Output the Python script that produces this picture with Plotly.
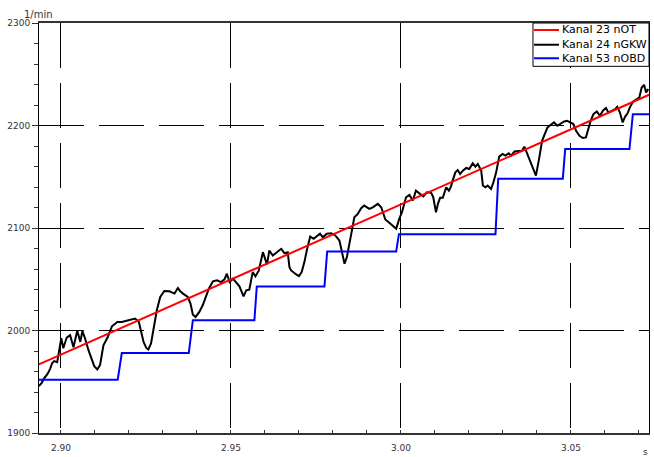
import plotly.graph_objects as go

# --- measured channels -------------------------------------------------------
# Kanal 24 nGKW (measured engine speed, 1/min)
gkw_t = [2.8935, 2.8943, 2.8951, 2.8960, 2.8968, 2.8974, 2.8980, 2.8989, 2.8995, 2.9001,
         2.9007, 2.9017, 2.9027, 2.9037, 2.9048, 2.9057, 2.9063, 2.9071, 2.9081, 2.9091,
         2.9098, 2.9107, 2.9115, 2.9125, 2.9137, 2.9150, 2.9166, 2.9179, 2.9194, 2.9204,
         2.9218, 2.9229, 2.9236, 2.9243, 2.9251, 2.9257, 2.9265, 2.9275, 2.9282, 2.9292,
         2.9304, 2.9319, 2.9334, 2.9344, 2.9351, 2.9359, 2.9373, 2.9381, 2.9388, 2.9396,
         2.9407, 2.9417, 2.9427, 2.9435, 2.9447, 2.9459, 2.9471, 2.9481, 2.9488, 2.9496,
         2.9506, 2.9515, 2.9525, 2.9537, 2.9545, 2.9554, 2.9564, 2.9572, 2.9582, 2.9594,
         2.9606, 2.9613, 2.9623, 2.9635, 2.9648, 2.9657, 2.9667, 2.9672, 2.9677, 2.9692,
         2.9700, 2.9708, 2.9716, 2.9723, 2.9733, 2.9743, 2.9753, 2.9762, 2.9770, 2.9782,
         2.9795, 2.9807, 2.9819, 2.9827, 2.9834, 2.9841, 2.9848, 2.9856, 2.9863, 2.9873,
         2.9883, 2.9892, 2.9907, 2.9917, 2.9932, 2.9942, 2.9954, 2.9964, 2.9974, 2.9986,
         2.9995, 3.0003, 3.0015, 3.0025, 3.0035, 3.0044, 3.0056, 3.0066, 3.0076, 3.0089,
         3.0095, 3.0103, 3.0109, 3.0115, 3.0123, 3.0128, 3.0133, 3.0141, 3.0147, 3.0152,
         3.0160, 3.0167, 3.0174, 3.0182, 3.0192, 3.0201, 3.0211, 3.0219, 3.0226, 3.0236,
         3.0241, 3.0248, 3.0255, 3.0265, 3.0272, 3.0280, 3.0289, 3.0299, 3.0307, 3.0317,
         3.0324, 3.0334, 3.0347, 3.0356, 3.0363, 3.0373, 3.0383, 3.0397, 3.0407, 3.0415,
         3.0421, 3.0431, 3.0441, 3.0450, 3.0460, 3.0470, 3.0480, 3.0489, 3.0499, 3.0507,
         3.0515, 3.0525, 3.0535, 3.0544, 3.0551, 3.0558, 3.0566, 3.0576, 3.0585, 3.0595,
         3.0603, 3.0610, 3.0620, 3.0630, 3.0636, 3.0644, 3.0652, 3.0659, 3.0666, 3.0674,
         3.0683, 3.0693, 3.0701, 3.0708, 3.0715, 3.0721, 3.0727]
gkw_rpm = [1945.7, 1948.7, 1953.5, 1957.4, 1962.3, 1968.1, 1970.1, 1969.1, 1980.8, 1992.5,
           1982.7, 1993.1, 1995.4, 1983.7, 1999.8, 1988.9, 1999.3, 1992.2, 1980.8, 1972.7,
           1965.2, 1962.0, 1966.2, 1985.6, 1993.1, 2004.1, 2008.3, 2008.3, 2009.3, 2010.0,
           2011.6, 2008.5, 1998.6, 1988.9, 1983.0, 1981.5, 1987.3, 2006.8, 2019.7, 2032.7,
           2038.5, 2038.2, 2036.0, 2041.4, 2038.2, 2036.0, 2032.7, 2026.2, 2015.5, 2013.2,
           2018.1, 2024.6, 2032.7, 2040.8, 2047.9, 2048.9, 2047.2, 2049.9, 2055.4, 2047.2,
           2050.6, 2047.0, 2043.1, 2033.3, 2039.2, 2039.9, 2057.0, 2052.8, 2058.6, 2076.4,
           2064.5, 2078.1, 2073.2, 2076.4, 2079.7, 2075.5, 2076.4, 2061.8, 2058.6, 2054.7,
           2053.1, 2057.0, 2066.7, 2078.1, 2091.7, 2089.5, 2091.7, 2094.4, 2091.0, 2094.4,
           2094.9, 2092.7, 2087.8, 2077.1, 2065.2, 2071.6, 2083.0, 2095.9, 2110.5, 2113.8,
           2119.3, 2121.9, 2118.7, 2120.2, 2123.5, 2120.2, 2108.3, 2105.6, 2103.1, 2099.2,
           2108.9, 2115.4, 2130.0, 2132.3, 2126.8, 2136.5, 2133.3, 2130.9, 2134.8, 2134.3,
           2130.0, 2115.4, 2123.8, 2129.4, 2129.4, 2134.8, 2139.7, 2136.5, 2140.4, 2146.2,
           2154.3, 2156.6, 2152.7, 2156.0, 2158.6, 2157.6, 2163.1, 2159.8, 2162.5, 2156.0,
           2141.4, 2139.7, 2141.4, 2138.1, 2144.6, 2154.3, 2169.6, 2172.2, 2170.6, 2172.8,
           2170.6, 2174.7, 2174.7, 2175.4, 2179.3, 2170.6, 2162.5, 2151.1, 2168.9, 2185.1,
           2190.0, 2198.1, 2200.7, 2203.0, 2199.7, 2201.4, 2203.9, 2204.6, 2203.0, 2201.4,
           2194.9, 2190.0, 2187.8, 2188.4, 2196.5, 2204.6, 2211.1, 2213.7, 2209.5, 2215.0,
           2217.0, 2212.7, 2214.3, 2216.0, 2218.2, 2212.7, 2203.0, 2208.5, 2211.7, 2218.2,
           2223.4, 2225.7, 2227.3, 2237.0, 2239.7, 2232.2, 2235.5]

# Kanal 23 nOT (reference speed ramp)
ot_t = [2.8935, 3.0730]
ot_rpm = [1967.0, 2230.0]

# Kanal 53 nOBD (quantised speed, stair steps)
obd_t = [2.8935, 2.9167, 2.9179, 2.9376, 2.9388, 2.9569, 2.9576, 2.9775, 2.9783,
         2.9986, 2.9994, 3.0278, 3.0286, 3.0476, 3.0483, 3.0672, 3.0682, 3.0730]
obd_rpm = [1952, 1952, 1978, 1978, 2010, 2010, 2043, 2043, 2077,
           2077, 2094, 2094, 2148, 2148, 2177, 2177, 2211, 2211]

series_names = ["Kanal 23 nOT", "Kanal 24 nGKW", "Kanal 53 nOBD"]
series_colors = ["#ff0000", "#000000", "#0000ff"]

x_tickvals = [2.90, 2.95, 3.00, 3.05]
x_ticktext = ["2.90", "2.95", "3.00", "3.05"]
y_tickvals = [1900, 2000, 2100, 2200, 2300]
y_ticktext = ["1900", "2000", "2100", "2200", "2300"]

FONT = "DejaVu Sans"

fig = go.Figure()
fig.add_trace(go.Scatter(x=gkw_t, y=gkw_rpm, mode="lines", name=series_names[1],
                         line=dict(color=series_colors[1], width=2)))
fig.add_trace(go.Scatter(x=obd_t, y=obd_rpm, mode="lines", name=series_names[2],
                         line=dict(color=series_colors[2], width=2)))
fig.add_trace(go.Scatter(x=ot_t, y=ot_rpm, mode="lines", name=series_names[0],
                         line=dict(color=series_colors[0], width=2)))

fig.update_layout(
    width=654, height=457,
    margin=dict(l=39, r=5, t=23, b=24),
    paper_bgcolor="white", plot_bgcolor="white",
    showlegend=False,
    font=dict(family=FONT, size=9, color="#333333"),
)

fig.update_xaxes(
    range=[2.89355, 3.07295],
    tickvals=x_tickvals, ticktext=x_ticktext,
    ticks="inside", ticklen=3, tickcolor="#333333",
    ticklabelstandoff=5,
    minor=dict(dtick=0.01, tick0=2.9, ticks="inside", ticklen=3, tickcolor="#333333",
               showgrid=False),
    showgrid=True, gridcolor="#000000", gridwidth=1, griddash="45px,15px",
    showline=True, linecolor="#333333", linewidth=2, mirror=True,
    zeroline=False,
    tickfont=dict(family=FONT, size=9, color="#333333"),
)
fig.update_yaxes(
    range=[1900, 2300],
    tickvals=y_tickvals, ticktext=y_ticktext,
    ticks="outside", ticklen=6, tickcolor="#333333",
    minor=dict(dtick=20, tick0=1900, ticks="outside", ticklen=4, tickcolor="#333333",
               showgrid=False),
    showgrid=True, gridcolor="#000000", gridwidth=1, griddash="45px,15px",
    showline=True, linecolor="#000000", linewidth=1, mirror=True,
    zeroline=False,
    tickfont=dict(family=FONT, size=9, color="#333333"),
)

# legend box drawn in the top-right corner of the plotting area
leg_x0, leg_x1 = 0.8098, 1.0
leg_y0, leg_y1 = 0.8943, 1.0
fig.add_shape(type="rect", xref="paper", yref="paper",
              x0=leg_x0, x1=leg_x1, y0=leg_y0, y1=leg_y1,
              line=dict(color="#000000", width=1), fillcolor="white", layer="above")
row_y = [0.983, 0.947, 0.914]
for name, color, yy in zip(series_names, series_colors, row_y):
    fig.add_shape(type="line", xref="paper", yref="paper",
                  x0=0.8115, x1=0.8525, y0=yy, y1=yy,
                  line=dict(color=color, width=2), layer="above")
    fig.add_annotation(xref="paper", yref="paper", x=0.8557, y=yy,
                       text=name, showarrow=False,
                       xanchor="left", yanchor="middle",
                       font=dict(family=FONT, size=11, color="#000000"),
                       borderpad=0)

# axis units
fig.add_annotation(xref="paper", yref="paper", x=0.024, y=1, yshift=2,
                   text="1/min", showarrow=False, xanchor="right", yanchor="bottom",
                   font=dict(family=FONT, size=10, color="#333333"), borderpad=0)
fig.add_annotation(xref="paper", yref="paper", x=1.0, y=0, yshift=-13,
                   text="s", showarrow=False, xanchor="right", yanchor="top",
                   font=dict(family=FONT, size=9, color="#333333"), borderpad=0)

fig.write_html("out.html")
